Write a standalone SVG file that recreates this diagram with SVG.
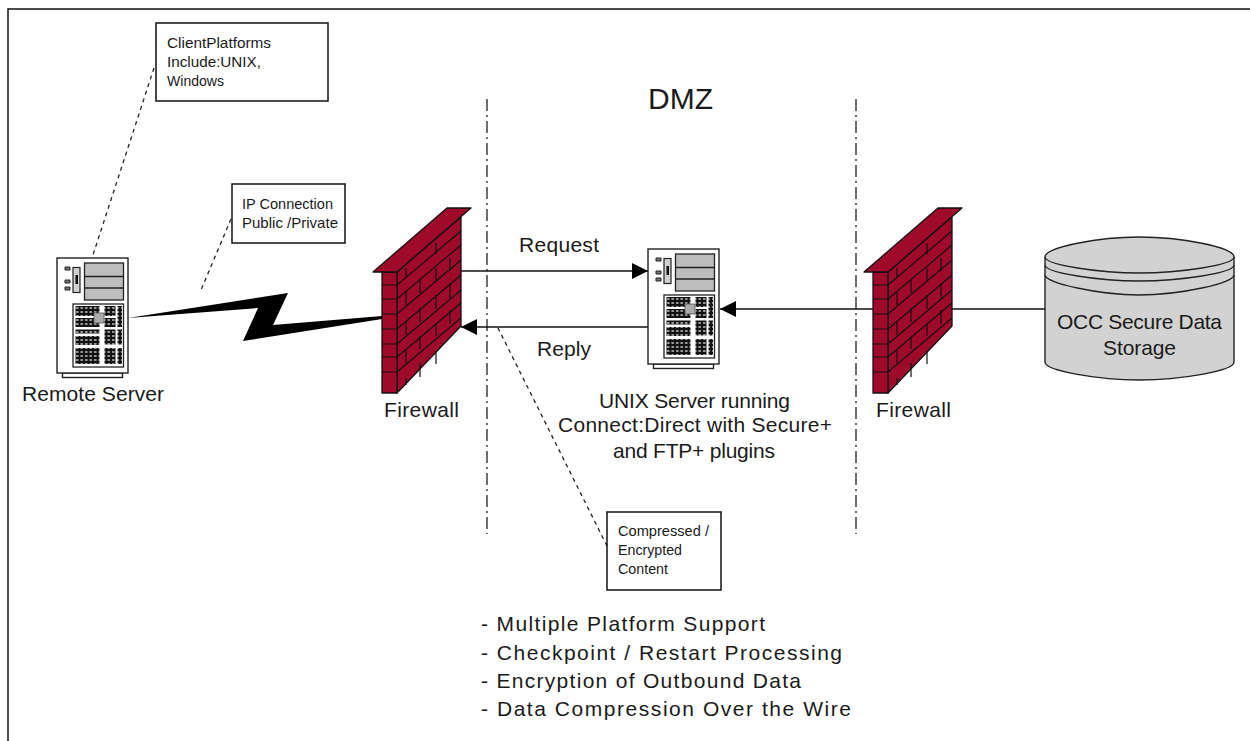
<svg xmlns="http://www.w3.org/2000/svg" xmlns:xlink="http://www.w3.org/1999/xlink" width="1250" height="741" viewBox="0 0 1250 741">
<style>
text{font-family:"Liberation Sans",Arial,sans-serif;fill:#1a1a1a}
.lbl{font-size:21px}
.note{font-size:15px}
.dmz{font-size:30px}
.ln{fill:none;stroke:#111;stroke-width:1.6}
.dot{fill:none;stroke:#222;stroke-width:1.3;stroke-dasharray:4 4}
.dd{fill:none;stroke:#222;stroke-width:1.3;stroke-dasharray:12 4 2 4}
.box{fill:#fff;stroke:#111;stroke-width:1.5}
.b{fill:none;stroke:#111;stroke-width:1.2}
.bk{fill:#a00a2a;stroke:#111;stroke-width:1.3;stroke-linejoin:round}
.srv{fill:#fff;stroke:#222;stroke-width:1.4}
.g{fill:#bdbdbd;stroke:#222;stroke-width:1.3}
</style>
<defs>
<marker id="ah" markerUnits="userSpaceOnUse" markerWidth="17" markerHeight="16" refX="16" refY="8" orient="auto"><path d="M0 0L16 8L0 16z" fill="#000"/></marker>
<pattern id="cells" width="4.5" height="4" patternUnits="userSpaceOnUse"><rect width="4.5" height="4" fill="#111"/><rect x="1" y="1" width="2.5" height="2" fill="#9a9a9a"/></pattern>
<g id="server">
<rect class="srv" x="5.5" y="115" width="60" height="4.5"/>
<rect class="srv" x="0" y="0" width="71" height="115"/>
<rect class="g" x="27.5" y="5" width="39" height="37"/>
<path d="M27.5 18.500H66.500M27.500 30H66.500" stroke="#222" stroke-width="1.4" fill="none"/>
<rect x="16" y="9.500" width="7" height="25" fill="#d0d0d0" stroke="#222" stroke-width="1.2"/>
<rect x="18.500" y="17" width="2.500" height="9" fill="#111"/>
<path d="M8 9h5v3h-5zM8 22h5v3h-5zM8 29h5v3h-5z" fill="#777" stroke="#222" stroke-width="1"/>
<rect x="16" y="46" width="50.500" height="63" fill="#fff" stroke="#222" stroke-width="1.300"/>
<rect x="18.500" y="48" width="24" height="10" fill="url(#cells)"/>
<rect x="18.500" y="60" width="24" height="9" fill="url(#cells)"/>
<rect x="18.500" y="71.500" width="24" height="4" fill="url(#cells)"/>
<rect x="18.500" y="78" width="24" height="9" fill="url(#cells)"/>
<rect x="18.500" y="90" width="24" height="16" fill="url(#cells)"/>
<rect x="47.500" y="48" width="11" height="10" fill="url(#cells)"/>
<rect x="47.500" y="60" width="11" height="9" fill="url(#cells)"/>
<rect x="47.500" y="71.500" width="11" height="15" fill="url(#cells)"/>
<rect x="47.500" y="90" width="11" height="16" fill="url(#cells)"/>
<rect x="60.500" y="48" width="4.500" height="21" fill="url(#cells)"/>
<rect x="60.500" y="71.500" width="4.500" height="15" fill="url(#cells)"/>
<rect x="60.500" y="90" width="4.500" height="16" fill="url(#cells)"/>
<rect x="37" y="55" width="10" height="10" fill="#aaa" stroke="#555" stroke-width="0.800"/>
</g>
<g id="wall">
<path class="bk" d="M397 272L461 217V326L397 393z"/>
<rect class="bk" x="382" y="272" width="15" height="121"/>
<path class="bk" d="M373 272L447 208H471L397 272z"/>
<path class="b" d="M382 285H397M382 299H397M382 314H397M382 329H397M382 344H397M382 357H397M382 372H397"/>
<path class="b" d="M397 285L461 231M397 299L461 245M397 314L461 260M397 329L461 275M397 344L461 290M397 357L461 303M397 372L461 318"/>
<path class="b" d="M406 268V277M436 243V254M406 292V305M420 280V293M436 268V281M450 258V271M406 321V335M420 308V322M436 295V309M450 284V298M406 350V363M420 336V349M436 323V336M450 310V324M406 378V385M420 363V377M436 351V364"/>
</g>
</defs>

<rect width="1250" height="741" fill="#fff"/>
<path d="M8 741V9H1250" fill="none" stroke="#111" stroke-width="1.500"/>

<g id="connectors">
<path class="dd" d="M487 99V534"/>
<path class="dd" d="M856 99V534"/>
<path class="dot" d="M154 68L92 258"/>
<path class="dot" d="M231 219L201 290"/>
<path class="dot" d="M607 546L497 326"/>
<path id="lightning" d="M128 318L288 293L273 325L382 316V319L243 341L258 308z" fill="#000"/>
<path class="ln" d="M461 271H648" marker-end="url(#ah)"/>
<path class="ln" d="M648 327H461" marker-end="url(#ah)"/>
<path class="ln" d="M873 309H720" marker-end="url(#ah)"/>
<path class="ln" d="M952 309H1045"/>
</g>

<g id="remote-server"><use href="#server" x="57" y="258"/><text class="lbl" x="22" y="401" textLength="142">Remote Server</text></g>
<g id="unix-server"><use href="#server" x="648" y="249"/>
<text class="lbl" x="599" y="408" textLength="191">UNIX Server running</text>
<text class="lbl" x="558" y="432" textLength="274">Connect:Direct with Secure+</text>
<text class="lbl" x="613" y="458" textLength="162">and FTP+ plugins</text></g>
<g id="firewall-1"><use href="#wall"/><text class="lbl" x="384" y="417" textLength="75">Firewall</text></g>
<g id="firewall-2"><use href="#wall" x="491"/><text class="lbl" x="876" y="417" textLength="75">Firewall</text></g>

<g id="storage">
<path d="M1045 257C1045 247 1100 237 1139 237C1180 237 1234 247 1234 257V362C1234 371 1180 380 1139 380C1100 380 1045 371 1045 362z" fill="#d2d2d2" stroke="#222" stroke-width="1.400"/>
<path d="M1045 257C1045 265 1100 273 1139 273C1180 273 1234 265 1234 257M1045 265C1045 273 1100 281 1139 281C1180 281 1234 273 1234 265M1045 275C1045 283 1100 295 1139 295C1180 295 1234 283 1234 275" fill="none" stroke="#222" stroke-width="1.300"/>
<text class="lbl" x="1057" y="329" textLength="165">OCC Secure Data</text>
<text class="lbl" x="1103" y="355" textLength="73">Storage</text>
</g>

<g id="note-client"><rect class="box" x="156" y="23" width="172" height="78"/>
<text class="note" x="167" y="48" textLength="104" lengthAdjust="spacingAndGlyphs">ClientPlatforms</text>
<text class="note" x="167" y="67" textLength="94" lengthAdjust="spacingAndGlyphs">Include:UNIX,</text>
<text class="note" x="167" y="86" textLength="57" lengthAdjust="spacingAndGlyphs">Windows</text></g>
<g id="note-ip"><rect class="box" x="232" y="184" width="113" height="59"/>
<text class="note" x="242" y="209" textLength="91" lengthAdjust="spacingAndGlyphs">IP Connection</text>
<text class="note" x="242" y="228" textLength="96" lengthAdjust="spacingAndGlyphs">Public /Private</text></g>
<g id="note-content"><rect class="box" x="607" y="512" width="114" height="78"/>
<text class="note" x="618" y="536" textLength="91" lengthAdjust="spacingAndGlyphs">Compressed /</text>
<text class="note" x="618" y="555" textLength="64" lengthAdjust="spacingAndGlyphs">Encrypted</text>
<text class="note" x="618" y="574" textLength="50" lengthAdjust="spacingAndGlyphs">Content</text></g>

<g id="labels">
<text class="dmz" x="648" y="109" textLength="65">DMZ</text>
<text class="lbl" x="519" y="252" textLength="80">Request</text>
<text class="lbl" x="537" y="356" textLength="54">Reply</text>
<text class="lbl" x="481" y="631" textLength="284">- Multiple Platform Support</text>
<text class="lbl" x="481" y="660" textLength="361">- Checkpoint / Restart Processing</text>
<text class="lbl" x="481" y="688" textLength="320">- Encryption of Outbound Data</text>
<text class="lbl" x="481" y="716" textLength="370">- Data Compression Over the Wire</text>
</g>
</svg>
